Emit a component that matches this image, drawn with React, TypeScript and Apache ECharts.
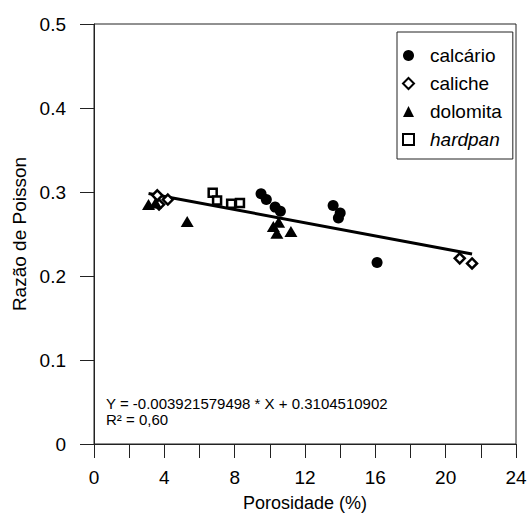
import React, { useEffect, useRef } from "react";
import * as echarts from "echarts";

const FONT = "'Liberation Sans', Arial, sans-serif";

const calcarioX = [9.5, 9.8, 10.3, 10.6, 13.6, 13.9, 14.0, 16.1];
const calcarioY = [0.298, 0.291, 0.282, 0.277, 0.284, 0.269, 0.275, 0.216];

const calicheX = [3.6, 3.7, 4.2, 20.8, 21.5];
const calicheY = [0.296, 0.285, 0.291, 0.221, 0.215];

const dolomitaX = [3.1, 3.5, 5.3, 10.2, 10.4, 10.5, 11.2];
const dolomitaY = [0.285, 0.287, 0.265, 0.259, 0.251, 0.264, 0.253];

const hardpanX = [6.75, 7.0, 7.8, 8.3];
const hardpanY = [0.299, 0.29, 0.286, 0.287];

const fitX = [3.1, 21.5];
const fitY = [0.2983, 0.2261];

const seriesNames = ["calcário", "caliche", "dolomita", "hardpan"];
const equationLines = ["Y = -0.003921579498 * X + 0.3104510902", "R² = 0,60"];

const zip = (xs: number[], ys: number[]) => xs.map((x, i) => [x, ys[i]]);

export default function App() {
  const ref = useRef<HTMLDivElement>(null);
  useEffect(() => {
    document.body.style.margin = "0";
    const chart = echarts.init(ref.current!, null, { renderer: "svg" });
    const axisLine = { lineStyle: { color: "#222", width: 1 } };
    chart.setOption({
      animation: false,
      backgroundColor: "#fff",
      textStyle: { fontFamily: FONT },
      grid: {
        left: 94,
        right: 12,
        top: 24,
        bottom: 69,
        containLabel: false,
        outerBoundsMode: "none",
        show: true,
        borderColor: "#222",
        borderWidth: 1,
        backgroundColor: "transparent",
      },
      xAxis: {
        type: "value",
        min: 0,
        max: 24,
        interval: 2,
        name: "Porosidade (%)",
        nameLocation: "middle",
        nameGap: 50,
        nameTextStyle: { fontSize: 18, color: "#000", fontFamily: FONT },
        axisLine: { ...axisLine, onZero: false },
        axisTick: { show: true, inside: false, length: 14, lineStyle: { color: "#222" } },
        axisLabel: {
          margin: 24,
          fontSize: 19,
          color: "#000",
          fontFamily: FONT,
          formatter: (v: number) => (v % 4 === 0 ? String(v) : ""),
        },
        splitLine: { show: false },
      },
      yAxis: {
        type: "value",
        min: 0,
        max: 0.5,
        interval: 0.1,
        name: "Razão de Poisson",
        nameLocation: "middle",
        nameGap: 62,
        nameTextStyle: { fontSize: 19, color: "#000", fontFamily: FONT },
        axisLine: { ...axisLine, onZero: false },
        axisTick: { show: true, inside: false, length: 14, lineStyle: { color: "#222" } },
        axisLabel: {
          margin: 28,
          fontSize: 19,
          color: "#000",
          fontFamily: FONT,
          formatter: (v: number) => (v === 0 ? "0" : v.toFixed(1)),
        },
        splitLine: { show: false },
      },
      legend: {
        data: seriesNames,
        orient: "vertical",
        left: 397,
        top: 32,
        padding: [14, 11, 10, 5],
        itemGap: 9,
        itemWidth: 11,
        itemHeight: 11,
        borderColor: "#222",
        borderWidth: 1,
        borderRadius: 0,
        backgroundColor: "#fff",
        textStyle: {
          fontSize: 19,
          lineHeight: 18,
          color: "#000",
          fontFamily: FONT,
          padding: [0, 0, 0, 11],
          rich: {
            i: { fontStyle: "italic", fontSize: 19, lineHeight: 18, color: "#000", fontFamily: FONT },
          },
        },
        formatter: (name: string) => (name === "hardpan" ? "{i|hardpan}" : name),
      },
      graphic: [
        {
          type: "text",
          left: 106,
          top: 396,
          style: { text: equationLines[0], fontSize: 15, fill: "#000", fontFamily: FONT },
        },
        {
          type: "text",
          left: 106,
          top: 412,
          style: { text: equationLines[1], fontSize: 15, fill: "#000", fontFamily: FONT },
        },
      ],
      series: [
        {
          name: "fit",
          type: "line",
          data: zip(fitX, fitY),
          symbol: "none",
          lineStyle: { color: "#000", width: 3 },
          z: 1,
        },
        {
          name: seriesNames[0],
          type: "scatter",
          data: zip(calcarioX, calcarioY),
          symbol: "circle",
          symbolSize: 11,
          itemStyle: { color: "#000", opacity: 1 },
          z: 3,
        },
        {
          name: seriesNames[1],
          type: "scatter",
          data: zip(calicheX, calicheY),
          symbol: "diamond",
          symbolSize: 10,
          itemStyle: { color: "#fff", borderColor: "#000", borderWidth: 2.5, opacity: 1 },
          z: 3,
        },
        {
          name: seriesNames[2],
          type: "scatter",
          data: zip(dolomitaX, dolomitaY),
          symbol: "triangle",
          symbolSize: [13, 11],
          itemStyle: { color: "#000", opacity: 1 },
          z: 3,
        },
        {
          name: seriesNames[3],
          type: "scatter",
          data: zip(hardpanX, hardpanY),
          symbol: "rect",
          symbolSize: 8,
          itemStyle: { color: "#fff", borderColor: "#000", borderWidth: 2.5, opacity: 1 },
          z: 3,
        },
      ],
    });
    return () => chart.dispose();
  }, []);
  return <div ref={ref} style={{ width: 528, height: 513 }} />;
}
